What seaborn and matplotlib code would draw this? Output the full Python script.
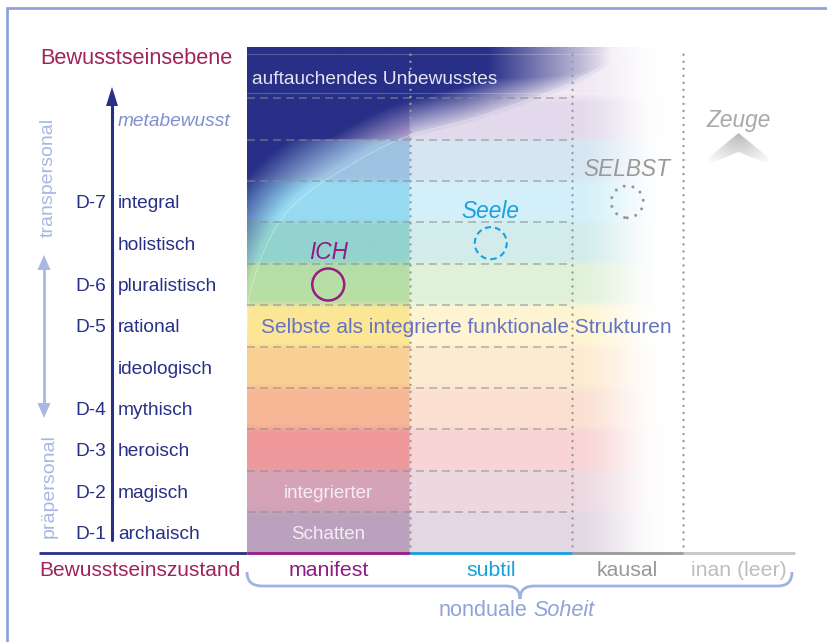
import numpy as np
import matplotlib
matplotlib.use('Agg')
import matplotlib.pyplot as plt
import matplotlib.patches as mpatches
from matplotlib.path import Path
from matplotlib.colors import to_rgb
import seaborn as sns

sns.set_theme(style='white')
plt.rcParams['font.family'] = ['Liberation Sans', 'DejaVu Sans']

#### data ####
levels = ['archaisch', 'magisch', 'heroisch', 'mythisch', 'ideologisch',
          'rational', 'pluralistisch', 'holistisch', 'integral', '',
          'metabewusst']
codes = ['D-1', 'D-2', 'D-3', 'D-4', '', 'D-5', 'D-6', '', 'D-7', '', '']
level_colors = ['#baa2be', '#d5a3b7', '#ef999c', '#f6b795', '#f9cf93',
                '#fde795', '#b7dea6', '#92d3cf', '#97dbf2', '#9dc2e2',
                '#bba8d2']
top_band = 'auftauchendes Unbewusstes'
top_color = '#dac8e0'
states = ['manifest', 'subtil', 'kausal', 'inan (leer)']
state_colors = ['#9b1b86', '#17a0e2', '#9a9a9a', '#c6c6c6']
state_text_colors = ['#8e1c83', '#1aa0e0', '#999999', '#bdbdbd']
state_strength = [1.0, 0.42, 0.42, 0.0]
selves = ['ICH', 'Seele', 'SELBST', 'Zeuge']
self_levels = [6, 7, 8, 9]
shadow = ['Schatten', 'integrierter']
structures = 'Selbste als integrierte funktionale Strukturen'

#### layout (pixels of the 828x642 picture) ####
W_PX, H_PX = 828, 642
X0, UW = 247.0, 162.5     # grid origin x, width of one state unit
Y0, LH = 553.3, 41.35     # base line y, height of one level
col_widths = [1.0, 1.0, 0.68, 0.69]
DY = 2.0 / LH             # text baseline nudge
NAVY = '#272f87'
CRIMSON = '#9c2459'
PALE = '#a8b8e2'
# edge of the emerging unconscious (pixel path)
arc_px = np.array([247, 248, 262, 278, 298, 322, 372, 408, 473, 540, 573, 633])
arc_py = np.array([330, 298, 254, 222, 200, 182, 152, 135, 119, 96, 83, 47.7])


def ux(px):
    return (px - X0) / UW


def vy(py):
    return (Y0 - py) / LH


def P(px, py):
    return (ux(px), vy(py))


fig = plt.figure(figsize=(W_PX / 100, H_PX / 100), dpi=100)
ax = fig.add_axes([0, 0, 1, 1])

edges = np.concatenate([[0.0], np.cumsum(col_widths)])
mids = (edges[:-1] + edges[1:]) / 2
top = vy(47.7)

# ---- coloured lattice ----
nx, ny = 600, 560
u = np.linspace(0, edges[-1], nx)
v = np.linspace(0, top, ny)
rgb = np.array([to_rgb(c) for c in level_colors + [top_color]])
base = rgb[np.minimum(v.astype(int), len(levels))]
sig = 2.5 / (top * LH / ny)
kx = np.arange(-int(4 * sig), int(4 * sig) + 1)
kern = np.exp(-0.5 * (kx / sig) ** 2)
kern /= kern.sum()
pad = len(kx) // 2
padded = np.pad(base, ((pad, pad), (0, 0)), mode='edge')
base = np.stack([np.convolve(padded[:, c], kern, mode='valid')
                 for c in range(3)], axis=1)

col = np.clip(np.searchsorted(edges, u, side='right') - 1, 0, len(states) - 1)
k = np.array(state_strength)[col]
t = np.clip((u - edges[2]) / 0.58, 0, 1)
k = np.where(col == 2, k * (1 - (3 * t ** 2 - 2 * t ** 3)), k)
img = 1 - k[None, :, None] * (1 - base[:, None, :])

# smooth dense version of the arc
seg = np.hypot(np.diff(arc_px), np.diff(arc_py))
cum = np.concatenate([[0], np.cumsum(seg)])
s = np.linspace(0, cum[-1], 400)
cxs = np.interp(s, cum, arc_px)
cys = np.interp(s, cum, arc_py)
box = np.ones(25) / 25
cxs[12:-12] = np.convolve(cxs, box, mode='valid')
cys[12:-12] = np.convolve(cys, box, mode='valid')

px_line = X0 + UW * u
alpha = np.zeros((ny, nx))
for j in range(ny):
    py = Y0 - LH * v[j]
    dist = np.hypot(px_line[:, None] - cxs[None, :], py - cys[None, :]).min(1)
    above = py < np.interp(px_line, cxs, cys, right=-1e9)
    perp = np.where(above, dist, -dist)
    if v[j] >= 10:
        a = np.clip((perp + 4) / 38, 0, 1)
        a = np.minimum(a, np.clip((612 - px_line) / 125, 0, 1))
    else:
        a = np.clip((perp - 4) / 50, 0, 1)
    alpha[j] = a
a3 = alpha[:, :, None]
img = img * (1 - a3) + np.array(to_rgb(NAVY)) * a3
ax.imshow(img, extent=(0, edges[-1], 0, top), origin='lower',
          aspect='auto', interpolation='bilinear', zorder=0)

ax.plot(ux(cxs), vy(cys), color='white', alpha=0.4, lw=0.6, zorder=1)
for py in (54.3, 93.3):
    ax.plot([0, ux(640)], [vy(py)] * 2, color='white', alpha=0.22, lw=0.8,
            zorder=1)

# level separators and state separators
for i in range(1, len(levels) + 1):
    ax.plot([0, edges[2]], [i, i], color='#8c8c8c', alpha=0.6, lw=1.2,
            dashes=(4.8, 3.0), zorder=2)
for e in edges[1:4]:
    ax.plot([e, e], [0, top], color='#9a9a9a', lw=1.8,
            linestyle=(0, (0.01, 2.8)), dash_capstyle='round', zorder=2)

# base line
ax.plot([ux(39), 0], [0, 0], color=NAVY, lw=2.0, solid_capstyle='butt')
for i, s_name in enumerate(states):
    ax.plot([edges[i], edges[i + 1]], [0, 0], color=state_colors[i], lw=2.0,
            solid_capstyle='butt', zorder=3)
    ax.text(mids[i], vy(569) - DY, s_name, ha='center', va='center',
            fontsize=15.3, color=state_text_colors[i])

# ---- left axis ----
ax.text(ux(40), vy(57) - DY, 'Bewusstseinsebene', ha='left', va='center',
        fontsize=15.7, color=CRIMSON)
ax.text(ux(39), vy(569) - DY, 'Bewusstseinszustand', ha='left',
        va='center', fontsize=15, color=CRIMSON)
for i, (code, name) in enumerate(zip(codes, levels)):
    if code:
        ax.text(ux(106), i + 0.5 - DY, code, ha='right', va='center',
                fontsize=13.8, color=NAVY)
    if name == 'metabewusst':
        ax.text(ux(118), i + 0.5 - DY, name, ha='left', va='center',
                fontsize=13.8, color='#7d8fcf', style='italic')
    elif name:
        ax.text(ux(118), i + 0.5 - DY, name, ha='left', va='center',
                fontsize=13.8, color=NAVY)

ax.plot([ux(112)] * 2, [vy(540), vy(100)], color=NAVY, lw=2.2)
ax.add_patch(mpatches.Polygon([P(112, 87), P(106, 106), P(118, 106)],
                              closed=True, color=NAVY, lw=0))
ax.plot([ux(44)] * 2, [vy(266), vy(407)], color=PALE, lw=2.0)
ax.add_patch(mpatches.Polygon([P(44, 255), P(37.5, 270), P(50.5, 270)],
                              closed=True, color=PALE, lw=0))
ax.add_patch(mpatches.Polygon([P(44, 418), P(37.5, 403), P(50.5, 403)],
                              closed=True, color=PALE, lw=0))
ax.text(ux(48), vy(177), 'transpersonal', rotation=90, ha='center',
        va='center', fontsize=14, color=PALE)
ax.text(ux(49), vy(486), 'präpersonal', rotation=90, ha='center',
        va='center', fontsize=14, color=PALE)

# ---- texts inside the lattice ----
ax.text(ux(252), vy(77) - DY, top_band, ha='left', va='center',
        fontsize=13.8, color='#e4e4f2')
ax.text(ux(466), 5.5 - DY, structures, ha='center', va='center',
        fontsize=15, color='#6673c2', zorder=4)
for i, w in enumerate(shadow):
    ax.text(mids[0], i + 0.5 - DY, w, ha='center', va='center',
            fontsize=13.5, color='#f4eef4')

# selves: ring one level higher per state
rr = 16
ring_styles = [dict(lw=1.8, linestyle='-'),
               dict(lw=1.5, linestyle=(0, (2.9, 1.9))),
               dict(lw=2.2, linestyle=(0, (0.01, 2.9)), capstyle='round')]
ring_colors = [state_colors[0], state_colors[1], '#969696']
for i, name in enumerate(selves):
    cx, cy = mids[i], self_levels[i] + 0.5
    if i < 3:
        ax.add_patch(mpatches.Ellipse((cx, cy), 2 * rr / UW, 2 * rr / LH,
                                      fill=False, edgecolor=ring_colors[i],
                                      zorder=4, **ring_styles[i]))
        ax.text(cx, cy + 34 / LH - DY, name, ha='center', va='center',
                fontsize=16.3, style='italic', color=state_text_colors[i],
                zorder=4)
    else:
        xc = X0 + UW * cx
        chev = [P(xc - 45, 170), P(xc, 133), P(xc + 45, 170), P(xc, 152)]
        poly = mpatches.Polygon(chev, closed=True, facecolor='none',
                                edgecolor='none')
        ax.add_patch(poly)
        gx, gy = np.meshgrid(np.linspace(-1, 1, 90), np.linspace(0, 1, 40))
        g = np.clip(np.hypot(gx, gy * 0.9), 0, 1)
        shade = 0.72 + (1.0 - 0.72) * g ** 0.9
        im = ax.imshow(np.dstack([shade] * 3),
                       extent=(ux(xc - 45), ux(xc + 45), vy(170), vy(133)),
                       origin='upper', aspect='auto', zorder=4)
        im.set_clip_path(poly)
        ax.text(cx, vy(118) - DY, name, ha='center', va='center',
                fontsize=16.3, style='italic', color='#a9a9a9', zorder=4)

# brace: nonduale Soheit
verts = [P(247, 572), P(247, 586), P(262, 586), P(506, 586), P(520, 586),
         P(520, 599), P(520, 586), P(534, 586), P(778, 586), P(792, 586),
         P(792, 572)]
cds = [Path.MOVETO, Path.CURVE3, Path.CURVE3, Path.LINETO, Path.CURVE3,
       Path.CURVE3, Path.CURVE3, Path.CURVE3, Path.LINETO, Path.CURVE3,
       Path.CURVE3]
ax.add_patch(mpatches.PathPatch(Path(verts, cds), fill=False,
                                edgecolor='#9fb2e1', lw=2.0))
ax.text(ux(527), vy(608) - DY, 'nonduale', ha='right', va='center',
        fontsize=15.6, color='#8fa3d9')
ax.text(ux(533), vy(608) - DY, 'Soheit', ha='left', va='center',
        fontsize=15.6, color='#8fa3d9', style='italic')

# frame
ax.plot([ux(7), ux(7), ux(W_PX)], [vy(H_PX), vy(8), vy(8)],
        color='#90a3da', lw=2.0, solid_joinstyle='miter')

ax.set_xlim(ux(0), ux(W_PX))
ax.set_ylim(vy(H_PX), vy(0))
ax.axis('off')

plt.savefig('out.png', dpi=100)
